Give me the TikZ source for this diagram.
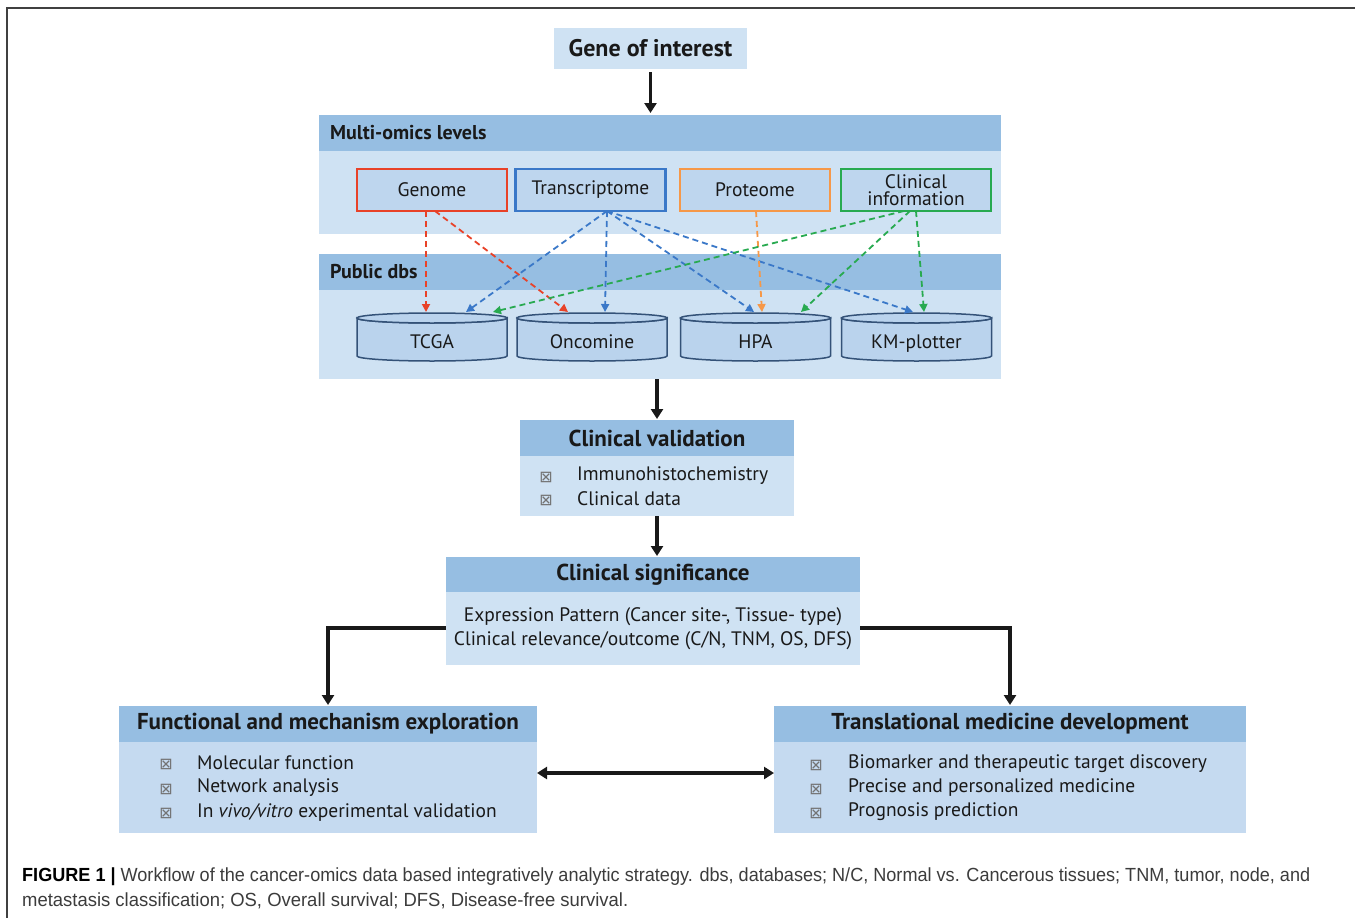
\documentclass[tikz,border=0pt]{standalone}
\usepackage{fontspec}
\setmainfont{PT Sans}
\newfontfamily\capfont{Liberation Sans}
\newfontfamily\symfont{DejaVu Sans}
\usetikzlibrary{arrows.meta,calc}
\definecolor{hdr}{RGB}{150,190,226}
\definecolor{bod}{RGB}{207,226,243}
\definecolor{bodb}{RGB}{197,218,240}
\definecolor{omf}{RGB}{190,214,238}
\definecolor{cylf}{RGB}{186,211,237}
\definecolor{cyld}{RGB}{52,82,120}
\definecolor{cred}{RGB}{232,66,40}
\definecolor{cblue}{RGB}{58,120,200}
\definecolor{corange}{RGB}{246,152,72}
\definecolor{cgreen}{RGB}{40,170,80}
\definecolor{txt}{RGB}{25,25,25}
\definecolor{capg}{RGB}{60,60,60}
\begin{document}
\begin{tikzpicture}[x=1pt,y=-1pt,
  box/.style={inner sep=0pt,outer sep=0pt,draw=none},
  hfont/.style={font=\bfseries\fontsize{23}{27}\selectfont,text=txt},
  sfont/.style={font=\bfseries\fontsize{20}{24}\selectfont,text=txt},
  bfont/.style={font=\fontsize{19.5}{24}\selectfont,text=txt},
  omic/.style={box,fill=omf,line width=2.2pt,minimum width=150,minimum height=42,bfont,align=center},
  cylnode/.style={box,minimum width=150,minimum height=38},
  chk/.style={inner sep=0pt,font=\symfont\fontsize{16}{16}\selectfont,text=black!55},
  item/.style={inner sep=0pt,anchor=west,bfont},
  blk/.style={line width=3.4pt,draw=black!90,-{Triangle[width=12pt,length=10pt]}},
  dsh/.style={line width=1.8pt,dash pattern=on 6pt off 4pt,-{Triangle[width=8pt,length=8pt]}}
]
\useasboundingbox (0,0) rectangle (1355,918);
\fill[white] (0,0) rectangle (1355,918);
\draw[line width=1.6pt,draw=black!75] (7,918) -- (7,8) -- (1355,8);

% Gene of interest
\node[box,fill=bod,minimum width=193,minimum height=41,font=\bfseries\fontsize{24}{28}\selectfont,text=txt] (gene) at (650.5,48.5) {Gene of interest};

% Multi-omics panel
\node[box,fill=bod,minimum width=682,minimum height=119] (mo) at (660,174.5) {};
\node[box,fill=hdr,minimum width=682,minimum height=36] (moh) at (660,133) {};
\node[inner sep=0pt,anchor=west,sfont] (mol) at (330,133) {Multi-omics levels};

\node[omic,draw=cred] (gen) at (432,190) {Genome};
\node[omic,draw=cblue] (tra) at (590.5,190) {Transcriptome};
\node[omic,draw=corange] (pro) at (755,190) {Proteome};
\node[omic,draw=cgreen,font=\fontsize{19.5}{17}\selectfont] (cli) at (916,190) {Clinical\\information};

% Public dbs panel
\node[box,fill=bod,minimum width=682,minimum height=125] (db) at (660,316.5) {};
\node[box,fill=hdr,minimum width=682,minimum height=36] (dbh) at (660,272) {};
\node[inner sep=0pt,anchor=west,sfont] (dbl) at (330,272) {Public dbs};

% cylinders
\foreach \n/\cx/\lab in {tcga/432/TCGA,onco/592/Oncomine,hpa/755.5/HPA,km/916.5/KM-plotter}{
  \node[cylnode] (\n) at (\cx,337) {};
  \filldraw[fill=cylf,draw=cyld,line width=1.5pt]
    (\n.north west) -- (\n.south west)
    arc[start angle=180,end angle=360,x radius=75pt,y radius=5pt]
    -- (\n.north east)
    arc[start angle=0,end angle=-180,x radius=75pt,y radius=5pt] -- cycle;
  \filldraw[fill=cylf,draw=cyld,line width=1.5pt] (\n.north) ellipse[x radius=75pt,y radius=5pt];
  \node[inner sep=0pt,bfont,anchor=base] (\n t) at (\cx,348) {\lab};
}

% dashed arrows
\draw[dsh,cred] ([xshift=-6pt]gen.south) -- ($(tcga.north)+(-6,-6)$);
\draw[dsh,cred] ([xshift=3pt]gen.south) -- ($(onco.north)+(-24,-6)$);
\draw[dsh,cblue] ([xshift=16.5pt]tra.south) -- ($(tcga.north)+(34,-6)$);
\draw[dsh,cblue] ([xshift=16.5pt]tra.south) -- ($(onco.north)+(13,-6)$);
\draw[dsh,cblue] ([xshift=16.5pt]tra.south) -- ($(hpa.north)+(-1.5,-6)$);
\draw[dsh,cblue] ([xshift=16.5pt]tra.south) -- ($(km.north)+(-3.5,-6)$);
\draw[dsh,corange] ([xshift=1pt]pro.south) -- ($(hpa.north)+(6.5,-6)$);
\draw[dsh,cgreen] ([xshift=-12pt]cli.south) -- ($(tcga.north)+(61,-6)$);
\draw[dsh,cgreen] ([xshift=-6pt]cli.south) -- ($(hpa.north)+(45.5,-6)$);
\draw[dsh,cgreen] ([xshift=0pt]cli.south) -- ($(km.north)+(7.5,-6)$);

% Clinical validation
\node[box,fill=bod,minimum width=274,minimum height=96] (cv) at (657,468) {};
\node[box,fill=hdr,minimum width=274,minimum height=36,hfont] (cvh) at (657,438) {Clinical validation};
\node[chk] (cvc1) at (546,477) {⊠};
\node[chk] (cvc2) at (546,500) {⊠};
\node[item] (cvi1) at (577,476) {Immunohistochemistry};
\node[item] (cvi2) at (577,499) {Clinical data};

% Clinical significance
\node[box,fill=bod,minimum width=414,minimum height=108] (cs) at (653,611) {};
\node[box,fill=hdr,minimum width=414,minimum height=35,hfont] (csh) at (653,574.5) {Clinical significance};
\node[inner sep=0pt,bfont,align=center] (cst) at (653,628.5) {Expression Pattern (Cancer site-, Tissue- type)\\Clinical relevance/outcome (C/N, TNM, OS, DFS)};

% Functional and mechanism exploration
\node[box,fill=bodb,minimum width=418,minimum height=127] (fm) at (328,769.5) {};
\node[box,fill=hdr,minimum width=418,minimum height=36,hfont] (fmh) at (328,724) {Functional and mechanism exploration};
\node[chk] (fmc1) at (166,764) {⊠};
\node[chk] (fmc2) at (166,789) {⊠};
\node[chk] (fmc3) at (166,813) {⊠};
\node[item] (fmi1) at (197,763) {Molecular function};
\node[item] (fmi2) at (197,788) {Network analysis};
\node[item] (fmi3) at (197,812) {In \textit{vivo/vitro} experimental validation};

% Translational medicine development
\node[box,fill=bodb,minimum width=472,minimum height=127] (tm) at (1010,769.5) {};
\node[box,fill=hdr,minimum width=472,minimum height=36,hfont] (tmh) at (1010,724) {Translational medicine development};
\node[chk] (tmc1) at (816,765) {⊠};
\node[chk] (tmc2) at (816,789) {⊠};
\node[chk] (tmc3) at (816,813) {⊠};
\node[item] (tmi1) at (848,764) {Biomarker and therapeutic target discovery};
\node[item] (tmi2) at (848,788) {Precise and personalized medicine};
\node[item] (tmi3) at (848,812) {Prognosis prediction};

% black arrows
\draw[blk,shorten <=3pt,shorten >=2pt] (gene.south) -- (gene.south |- mo.north);
\draw[blk,shorten >=1pt] (cv.north |- db.south) -- (cv.north);
\draw[blk,shorten >=1pt] (cv.south) -- (cv.south |- cs.north);
\draw[blk,shorten >=1pt] ($(cs.west)+(0,17)$) -| (fm.north);
\draw[blk,shorten >=1pt] ($(cs.east)+(0,17)$) -| (tm.north);
\draw[line width=3.4pt,draw=black!90,{Triangle[width=12pt,length=10pt]}-{Triangle[width=12pt,length=10pt]}] ($(fm.east)+(0,3.5)$) -- ($(tm.west)+(0,3.5)$);

% caption
\node[inner sep=0pt,anchor=west,font=\capfont\fontsize{19}{22}\selectfont,text=capg] (cap1) at (22,877)
  {\resizebox{1288pt}{\height}{\textcolor{black}{\textbf{FIGURE 1 |}} Workflow of the cancer-omics data based integratively analytic strategy. dbs, databases; N/C, Normal vs. Cancerous tissues; TNM, tumor, node, and}};
\node[inner sep=0pt,anchor=west,font=\capfont\fontsize{19}{22}\selectfont,text=capg] (cap2) at (22,901)
  {\resizebox{606pt}{\height}{metastasis classification; OS, Overall survival; DFS, Disease-free survival.}};
\end{tikzpicture}
\end{document}
